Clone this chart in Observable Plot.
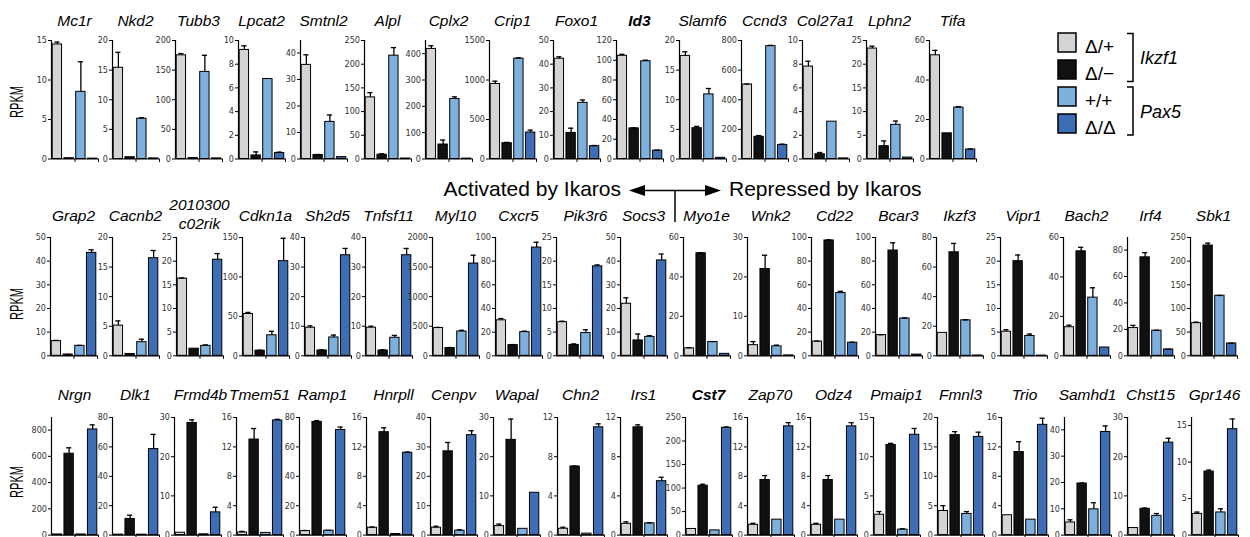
<!DOCTYPE html>
<html><head><meta charset="utf-8">
<script src="https://cdn.jsdelivr.net/npm/d3@7"></script>
<script src="https://cdn.jsdelivr.net/npm/@observablehq/plot@0.6"></script>
<style>
html,body{margin:0;padding:0;background:#fff;}
#fig{position:relative;width:1250px;height:537px;overflow:hidden;background:#fff;font-family:"Liberation Sans",Arial,Helvetica,sans-serif;}
.panel{position:absolute;}
.panel svg{display:block;}
</style></head>
<body><div id="fig"></div>
<script>
// ---------- data ----------
const conditions = ["Δ/+", "Δ/−", "+/+", "Δ/Δ"];
const conditionColors = ["#d4d4d4", "#111111", "#7eb0de", "#3d6db4"];
const genotypeGroups = ["Ikzf1", "Pax5"];
const groupSizes = [2, 2];
const boldGenes = ["Id3", "Cst7"];

const row1Genes = ["Mc1r","Nkd2","Tubb3","Lpcat2","Smtnl2","Alpl","Cplx2","Crip1","Foxo1","Id3","Slamf6","Ccnd3","Col27a1","Lphn2","Tifa"];
const row1Values = [
  [14.5,0.1,8.5,0.05],[15.4,0.3,6.8,0.1],[175,1.5,147,1],[9.2,0.3,6.75,0.5],[35.5,1.5,14,0.7],
  [130,9,218,1],[418,55,228,1.5],[950,200,1270,335],[42.3,11,23.7,5.4],[104.5,31,99,8.5],
  [17.4,5.2,10.9,0.2],[503,150,762,95],[7.8,0.4,3.15,0.05],[23.3,2.7,7.2,0.3],[52.5,13,26,4.8]];
const row1Errors = [
  [0.3,0,3.8,0],[2.6,0,0.15,0],[3,0,28,0],[0.35,0.3,0,0.08],[3.8,0.2,2.6,0],
  [10,2,17,0],[12,17,8,0],[35,10,10,30],[0.8,2,1.2,0.3],[1.5,0.5,1,0.5],
  [0.7,0.3,1,0],[3,8,5,5],[0.45,0.15,0,0],[0.5,1.1,0.8,0],[2.5,0,0.5,0.3]];
const row1AxisMax = [15,20,200,10,44.7,250,450,1500,50,120,20,800,10,25,60];
const row1TickStep = [5,5,50,2,10,50,100,500,10,20,5,200,2,5,20];

const row2Genes = ["Grap2","Cacnb2","2010300\nc02rik","Cdkn1a","Sh2d5","Tnfsf11","Myl10","Cxcr5","Pik3r6","Socs3","Myo1e","Wnk2","Cd22","Bcar3","Ikzf3","Vipr1","Bach2","Irf4","Sbk1"];
const row2Values = [
  [6.2,0.5,4.2,43.5],[5.1,0.3,2.3,16.5],[16.3,1.5,2.1,20.3],[53,6.5,26,120],[9.5,1.8,6.2,34],
  [9.5,1.8,6.1,34],[470,130,410,1560],[30,9,20,91.5],[7.1,2.3,4.8,18.9],[22,6.5,8,40.3],
  [3.8,52,7,1],[2.7,22,2.4,0.1],[12,97.5,53,11],[17.5,89,31.5,1],[15.5,70,24,0.2],
  [5.1,20,4.2,0.05],[14.5,53,29.5,4.2],[21,74.5,19,4.8],[69,233,127,26]];
const row2Errors = [
  [0.3,0.1,0.2,1.3],[0.8,0,0.5,1.3],[0.15,0,0.2,1.3],[2,0.5,5,29],[0.6,0.2,0.8,2.3],
  [0.5,0.2,0.8,2.3],[10,10,20,140],[1.5,0.5,0.8,4.5],[0.2,0.2,0.7,0.3],[2.5,2.7,0.5,2.7],
  [0.3,0.3,0.2,0],[0.9,3.5,0.3,0],[0.5,0.5,1.5,0.5],[0.3,6.5,0.5,0],[0,6,0.3,0],
  [0.4,1.3,0.4,0],[1,2,5,0],[2,3.5,0.3,0.2],[2,5,0.5,0.5]];
const row2AxisMax = [50,20,25,150,40,40,2000,100,25,50,60,30,100,100,80,25,60,89.5,250];
const row2TickStep = [10,5,5,50,10,10,500,20,5,10,20,10,20,20,20,5,20,20,50];

const row3Genes = ["Nrgn","Dlk1","Frmd4b","Tmem51","Ramp1","Hnrpll","Cenpv","Wapal","Chn2","Irs1","Cst7","Zap70","Odz4","Pmaip1","Fmnl3","Trio","Samhd1","Chst15","Gpr146"];
const row3Values = [
  [5,620,5,805],[0.3,11,0.3,58.5],[0.6,28.6,0.2,5.8],[0.35,13,0.3,15.6],[2.8,77,3,71.5],
  [1,14,0.15,11.2],[2.5,28.5,1.5,34],[2.3,24.3,1.6,10.8],[0.65,7,0.15,11],[1.15,11,1.2,5.5],
  [13,105,10,228],[1.4,7.5,2.1,14.8],[1.4,7.5,2.1,14.8],[2.6,11.5,0.7,12.8],[4.1,17,3.6,16.7],
  [2.7,11.3,2.1,15],[4.8,19.6,9.8,39.2],[1.8,6.7,4.9,23.6],[2.9,8.7,3.1,14.5]];
const row3Errors = [
  [0,45,0,35],[0,2.5,0,10],[0,0.8,0,1.3],[0.15,1.5,0,0.15],[0.3,0.8,0.2,2],
  [0.1,0.6,0,0.1],[0.5,3,0.3,1.5],[0.5,5.3,0,0],[0.15,0.05,0,0.35],[0.2,0.25,0.05,0.4],
  [0,3,0,2],[0.2,0.6,0,0.5],[0.2,0.6,0,0.5],[0.4,0.2,0.1,0.8],[0.9,0.6,0.4,0.8],
  [0,1.4,0,0.9],[1,0.2,2.5,2.3],[0,0.2,0.6,1.1],[0.25,0.2,0.5,1.4]];
const row3AxisMax = [896,80,30,16,80,16,40,30,12,12,250,16,16,15,20,16,44.7,30,16.1];
const row3TickStep = [200,20,10,4,20,4,10,10,4,4,50,4,4,5,5,4,10,10,5];

const yAxisLabel = "RPKM";
const leftLabel = "Activated by Ikaros";
const rightLabel = "Repressed by Ikaros";

// ---------- layout ----------
const row1AxisX = [51,112,175,238,300,364,425,489,553,616,679,741,802,866,929];
const row2AxisX = [50,112,176,242,304,365,432,495,556,620,683,747,811,875,936,1000,1063,1127,1190];
const row3AxisX = [51,112,174,236,299,366,430,493,557,620,685,747,810,873,937,1001,1064,1127,1191];
const rowZeroY = [158, 355, 534.3];
const rowRangeH = [118.5, 118.3, 117.6];
const rowTitleY = [26, 221, 400];
const rowLabelY = [102, 304, 482];
const titleShift = {"Frmd4b": 3, "Pik3r6": 6, "Hnrpll": 4};
const PANEL_W = 47;
const M = {left: 28, right: 4, top: 4, bottom: 6};

const rows = [
  {genes: row1Genes, values: row1Values, errors: row1Errors, max: row1AxisMax, step: row1TickStep, ax: row1AxisX},
  {genes: row2Genes, values: row2Values, errors: row2Errors, max: row2AxisMax, step: row2TickStep, ax: row2AxisX},
  {genes: row3Genes, values: row3Values, errors: row3Errors, max: row3AxisMax, step: row3TickStep, ax: row3AxisX}
];

const fig = d3.select("#fig");
const overlay = fig.append("svg")
  .attr("width", 1250).attr("height", 537)
  .style("position", "absolute").style("left", "0px").style("top", "0px")
  .style("font-family", "'Liberation Sans', Arial, Helvetica, sans-serif");

function makePanel(values, errors, axisMax, tickStep, rangeH) {
  const data = conditions.map((c, i) => ({condition: c, index: i, value: values[i], err: errors[i]}));
  const withErr = data.filter(d => d.err > 0);
  const tickValues = d3.range(0, axisMax + 1e-9, tickStep);
  const groupEnds = d3.cumsum(groupSizes);
  return Plot.plot({
    width: M.left + PANEL_W + M.right,
    height: M.top + rangeH + M.bottom,
    marginLeft: M.left, marginRight: M.right, marginTop: M.top, marginBottom: M.bottom,
    x: {domain: [0, conditions.length]},
    y: {domain: [0, axisMax]},
    color: {domain: conditions, range: conditionColors},
    style: {fontFamily: "'Liberation Sans Narrow','Arial Narrow','DejaVu Sans Condensed',sans-serif", fontSize: "9px", background: "transparent", overflow: "visible", color: "#000"},
    marks: [
      Plot.rectY(data, {x1: "index", x2: d => d.index + 1, y1: 0, y2: "value", fill: "condition", stroke: "#000", strokeWidth: 1, insetLeft: 1.2, insetRight: 1.2}),
      Plot.ruleX(withErr, {x: d => d.index + 0.5, y1: "value", y2: d => d.value + d.err, stroke: "#000", strokeWidth: 1.3}),
      Plot.ruleY(withErr, {x1: d => d.index + 0.28, x2: d => d.index + 0.72, y: d => d.value + d.err, stroke: "#000", strokeWidth: 1.3}),
      Plot.ruleX([0], {stroke: "#000", strokeWidth: 1.2}),
      Plot.ruleY([0], {stroke: "#000", strokeWidth: 1.2}),
      Plot.axisY(tickValues, {tickSize: 3, tickPadding: 1.5, tickFormat: d => String(d), label: null, stroke: "#000", fill: "#333"}),
      Plot.axisX(groupEnds, {tickSize: 3.5, tickFormat: () => "", label: null, stroke: "#000"})
    ]
  });
}

rows.forEach((row, r) => {
  row.genes.forEach((gene, g) => {
    const svg = makePanel(row.values[g], row.errors[g], row.max[g], row.step[g], rowRangeH[r]);
    const w = M.left + PANEL_W + M.right;
    fig.append("div").attr("class", "panel")
      .style("left", (row.ax[g] - M.left) + "px")
      .style("top", (rowZeroY[r] - rowRangeH[r] - M.top) + "px")
      .style("width", w + "px")
      .node().appendChild(svg);
    // title
    const lines = gene.split("\n");
    const cx = row.ax[g] + PANEL_W / 2 + (titleShift[gene] || 0);
    const t = overlay.append("text")
      .attr("x", cx).attr("text-anchor", "middle")
      .attr("font-size", 15.5).attr("font-style", "italic")
      .attr("font-weight", boldGenes.includes(gene) ? "bold" : "normal");
    if (lines.length === 1) {
      t.attr("y", rowTitleY[r]).text(gene);
    } else {
      t.attr("y", rowTitleY[r] - 11.5);
      lines.forEach((ln, k) => t.append("tspan").attr("x", cx).attr("dy", k === 0 ? 0 : 19).text(ln));
    }
  });
  overlay.append("text")
    .attr("transform", `translate(16,${rowLabelY[r]}) rotate(-90) scale(0.62,1)`)
    .attr("text-anchor", "middle").attr("dominant-baseline", "central")
    .attr("font-size", 18).text(yAxisLabel);
});

// Ikaros direction annotation
const ann = overlay.append("g");
ann.append("text").attr("x", 621).attr("y", 195.5).attr("text-anchor", "end").attr("font-size", 21).text(leftLabel);
ann.append("text").attr("x", 729).attr("y", 195.5).attr("text-anchor", "start").attr("font-size", 21).text(rightLabel);
ann.append("line").attr("x1", 640).attr("x2", 710).attr("y1", 190.5).attr("y2", 190.5).attr("stroke", "#000").attr("stroke-width", 1.5);
ann.append("line").attr("x1", 675).attr("x2", 675).attr("y1", 190.5).attr("y2", 222).attr("stroke", "#000").attr("stroke-width", 1.5);
ann.append("path").attr("d", "M629,190.5L645,185L645,196Z").attr("fill", "#000");
ann.append("path").attr("d", "M721,190.5L705,185L705,196Z").attr("fill", "#000");

// legend
const lg = overlay.append("g");
conditions.forEach((c, i) => {
  const y0 = 33 + i * 27;
  lg.append("rect").attr("x", 1058).attr("y", y0).attr("width", 18).attr("height", 19)
    .attr("fill", conditionColors[i]).attr("stroke", "#000").attr("stroke-width", 1.5);
  lg.append("text").attr("x", 1085).attr("y", y0 + 19.5).attr("font-size", 19).text(c);
});
genotypeGroups.forEach((gname, k) => {
  const top = 33.5 + k * 53.5, bot = top + 48;
  lg.append("path").attr("d", `M1127,${top}H1133V${bot}H1127`).attr("fill", "none").attr("stroke", "#000").attr("stroke-width", 1.5);
  lg.append("text").attr("x", 1140).attr("y", (top + bot) / 2 + 6.5).attr("font-size", 18).attr("font-style", "italic").text(gname);
});
</script>
</body></html>
